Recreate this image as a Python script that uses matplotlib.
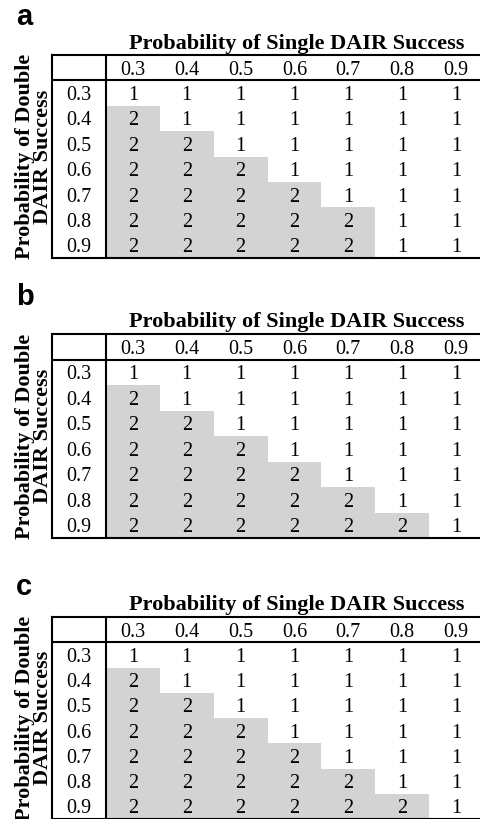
import numpy as np
import matplotlib
matplotlib.use("Agg")
import matplotlib.pyplot as plt
from matplotlib.colors import ListedColormap

W, H = 480, 819

single_probs = ["0.3", "0.4", "0.5", "0.6", "0.7", "0.8", "0.9"]
double_probs = ["0.3", "0.4", "0.5", "0.6", "0.7", "0.8", "0.9"]

panel_a = [
    [1, 1, 1, 1, 1, 1, 1],
    [2, 1, 1, 1, 1, 1, 1],
    [2, 2, 1, 1, 1, 1, 1],
    [2, 2, 2, 1, 1, 1, 1],
    [2, 2, 2, 2, 1, 1, 1],
    [2, 2, 2, 2, 2, 1, 1],
    [2, 2, 2, 2, 2, 1, 1],
]
panel_b = [
    [1, 1, 1, 1, 1, 1, 1],
    [2, 1, 1, 1, 1, 1, 1],
    [2, 2, 1, 1, 1, 1, 1],
    [2, 2, 2, 1, 1, 1, 1],
    [2, 2, 2, 2, 1, 1, 1],
    [2, 2, 2, 2, 2, 1, 1],
    [2, 2, 2, 2, 2, 2, 1],
]
panel_c = [
    [1, 1, 1, 1, 1, 1, 1],
    [2, 1, 1, 1, 1, 1, 1],
    [2, 2, 1, 1, 1, 1, 1],
    [2, 2, 2, 1, 1, 1, 1],
    [2, 2, 2, 2, 1, 1, 1],
    [2, 2, 2, 2, 2, 1, 1],
    [2, 2, 2, 2, 2, 2, 1],
]

panel_letters = ["a", "b", "c"]
title = "Probability of Single DAIR Success"
ylabel = "Probability of Double\nDAIR Success"

SERIF = "Liberation Serif"
SANS = "Liberation Sans"
GRAY = "#d3d3d3"
LW = 1.5
NUM_FS = 14.5

# table top / bottom in pixels, title baseline, letter baseline
layout = [
    (55, 258, 49, 25),
    (334, 538, 327, 305),
    (617, 819, 610, 595),
]

fig = plt.figure(figsize=(W / 100, H / 100), dpi=100)
fig.patch.set_facecolor("white")


def fx(x):
    return x / W


def fy(y):
    return 1 - y / H


tbl_left = 52
tbl_right = 483
cmap = ListedColormap(["white", GRAY])

for letter, vals, (top, bot, t_base, l_base) in zip(
        panel_letters, [panel_a, panel_b, panel_c], layout):
    vals = np.array(vals)
    ax = fig.add_axes([fx(tbl_left), fy(bot), (tbl_right - tbl_left) / W,
                       (bot - top) / H])
    ax.set_xlim(0, 8)
    ax.set_ylim(8, 0)
    ax.set_xticks([])
    ax.set_yticks([])
    for sp in ax.spines.values():
        sp.set_linewidth(LW)
        sp.set_color("black")

    ax.pcolormesh(np.arange(1, 9), np.arange(1, 9), vals, cmap=cmap,
                  vmin=1, vmax=2, shading="flat")
    ax.axhline(1, color="black", lw=LW)
    ax.axvline(1, color="black", lw=LW)

    for j, s in enumerate(single_probs):
        ax.text(j + 1.5, 0.5, s, ha="center", va="center_baseline",
                family=SERIF, fontsize=NUM_FS)
    for i, d in enumerate(double_probs):
        ax.text(0.5, i + 1.5, d, ha="center", va="center_baseline",
                family=SERIF, fontsize=NUM_FS)
        for j in range(len(single_probs)):
            ax.text(j + 1.5, i + 1.5, str(vals[i, j]), ha="center",
                    va="center_baseline", family=SERIF, fontsize=NUM_FS)

    # panel letter and column title
    fig.text(fx(16), fy(l_base), letter, ha="left", va="baseline",
             family=SANS, fontweight="bold", fontsize=21)
    fig.text(fx(297), fy(t_base), title, ha="center", va="baseline",
             family=SERIF, fontweight="bold", fontsize=16)

    # two-line rotated row title
    mid = (top + bot) / 2
    fig.text(fx(34), fy(mid), ylabel, rotation=90, ha="center",
             va="center", multialignment="center", linespacing=0.9,
             family=SERIF, fontweight="bold", fontsize=16)

fig.savefig("out.png", dpi=100)
